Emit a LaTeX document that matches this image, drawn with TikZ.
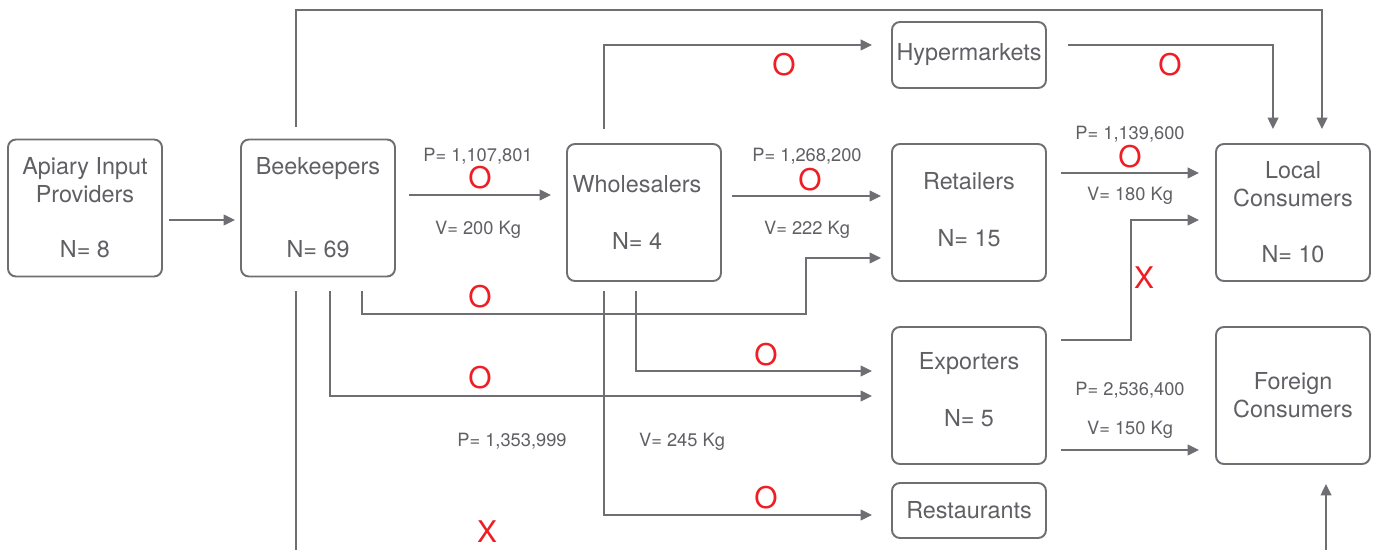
\documentclass[tikz,border=0pt]{standalone}
\usepackage{fontspec}
\setmainfont{TeX Gyre Heros}
\usetikzlibrary{arrows.meta}
\definecolor{linegray}{RGB}{110,110,115}
\definecolor{textgray}{RGB}{95,95,100}
\definecolor{markred}{RGB}{238,30,36}
\tikzset{>={Triangle[length=6.5pt,width=6pt]}}

\begin{document}
\begin{tikzpicture}[x=0.02cm, y=-0.02cm]
	\tikzstyle{actor} = [rectangle, rounded corners=4.5pt, draw=linegray, line width=1.1pt, minimum width=3.08cm, minimum height=2.74cm, align=center, text=textgray, font=\fontsize{13.3}{16}\selectfont, inner sep=0pt]
	\tikzstyle{actor_small} = [actor, minimum height=1.32cm]
	\tikzstyle{flow} = [->, draw=linegray, line width=1.1pt]
	\tikzstyle{price} = [anchor=base, text=textgray, font=\fontsize{10.4}{12}\selectfont, inner sep=0pt]
	\tikzstyle{verdict} = [anchor=base, text=markred, font=\fontsize{17}{20}\selectfont, inner sep=0pt]

	\useasboundingbox (0,0) rectangle (1376,550);
	\clip (0,0) rectangle (1376,550);

%----------actors--------------------------------------------
	\node[actor] (api) at (85,208) {Apiary Input\\Providers\\[0.54cm]N= 8};
	\node[actor] (bk) at (318,208) {Beekeepers\\[1.1cm]N= 69};
	\node[actor] (wh) at (644,212.5) {Wholesalers\hspace*{0.28cm}\\[0.56cm]N= 4\hspace*{0.28cm}};

	\node[actor_small] (hy) at (969,55) {Hypermarkets};
	\node[actor] (rt) at (969,212.5) {Retailers\\[0.56cm]N= 15\rule[-0.12cm]{0pt}{0pt}};
	\node[actor] (ex) at (969,395.5) {Exporters\\[0.58cm]N= 5\rule[-0.24cm]{0pt}{0pt}};
	\node[actor, minimum height=1.1cm] (rs) at (969,510.5) {Restaurants};

	\node[actor] (lc) at (1293,212.5) {Local\\Consumers\\[0.56cm]N= 10};
	\node[actor] (fc) at (1293,395.5) {Foreign\\Consumers};

%----------straight flows------------------------------------
	\draw[flow, shorten <=0.12cm, shorten >=0.1cm] (api.east |- 0,220) -- (bk.west |- 0,220);
	\draw[flow, shorten <=0.26cm, shorten >=0.3cm] (bk.east |- 0,195) -- (wh.west |- 0,195);
	\draw[flow, shorten <=0.2cm, shorten >=0.2cm] (wh.east |- 0,196) -- (rt.west |- 0,196);
	\draw[flow, shorten <=0.28cm, shorten >=0.32cm] (rt.east |- 0,173) -- (lc.west |- 0,173);
	\draw[flow, shorten <=0.28cm, shorten >=0.32cm] (ex.east |- 0,450) -- (fc.west |- 0,450);

%----------bent flows----------------------------------------
	\draw[flow, shorten <=0.28cm, shorten >=0.38cm] (wh.north -| 604,0) |- (hy.west |- 0,45);
	\draw[flow, shorten <=0.42cm, shorten >=0.28cm] (hy.east |- 0,45) -| (lc.north -| 1273,0);
	\draw[flow, shorten <=0.24cm, shorten >=0.28cm] (bk.north -| 296,0) -- (296,10) -| (lc.north -| 1322,0);
	\draw[flow, shorten <=0.28cm, shorten >=0.32cm] (ex.east |- 0,340) -| (1131,220) -- (lc.west |- 0,220);

	\draw[flow, shorten <=0.28cm, shorten >=0.2cm] (bk.south -| 362,0) |- (806,314) |- (rt.west |- 0,258);
	\draw[flow, shorten <=0.28cm, shorten >=0.38cm] (bk.south -| 330,0) |- (ex.west |- 0,396);
	\draw[flow, shorten <=0.18cm, shorten >=0.38cm] (wh.south -| 636,0) |- (ex.west |- 0,371);
	\draw[flow, shorten <=0.18cm, shorten >=0.38cm] (wh.south -| 604,0) |- (rs.west |- 0,515);
	\draw[flow, shorten <=0.28cm, shorten >=0.38cm] (bk.south -| 296,0) -- (296,580) -| (fc.south -| 1326,0);

%----------labels--------------------------------------------
	\node[price] (p_bw) at (478,162) {P= 1,107,801};
	\node[verdict] (o_bw) at (480,189) {O};
	\node[price] (v_bw) at (478,235) {V= 200 Kg};

	\node[price] (p_wr) at (807,162) {P= 1,268,200};
	\node[verdict] (o_wr) at (810,191) {O};
	\node[price] (v_wr) at (807,235) {V= 222 Kg};

	\node[verdict] (o_wh) at (784,76) {O};
	\node[verdict] (o_hl) at (1170,76) {O};

	\node[price] (p_rl) at (1130,140) {P= 1,139,600};
	\node[verdict] (o_rl) at (1130,168) {O};
	\node[price] (v_rl) at (1130,201) {V= 180 Kg};

	\node[verdict] (x_el) at (1144,289) {X};
	\node[price] (p_ef) at (1130,396) {P= 2,536,400};
	\node[price] (v_ef) at (1130,435) {V= 150 Kg};

	\node[verdict] (o_br) at (480,308) {O};
	\node[verdict] (o_be) at (480,389) {O};
	\node[verdict] (o_we) at (766,366) {O};
	\node[verdict] (o_ws) at (766,508) {O};

	\node[price] (p_be) at (512,446) {P= 1,353,999};
	\node[price] (v_we) at (682,446) {V= 245 Kg};
	\node[verdict] (x_bf) at (487,542) {X};

\end{tikzpicture}
\end{document}
